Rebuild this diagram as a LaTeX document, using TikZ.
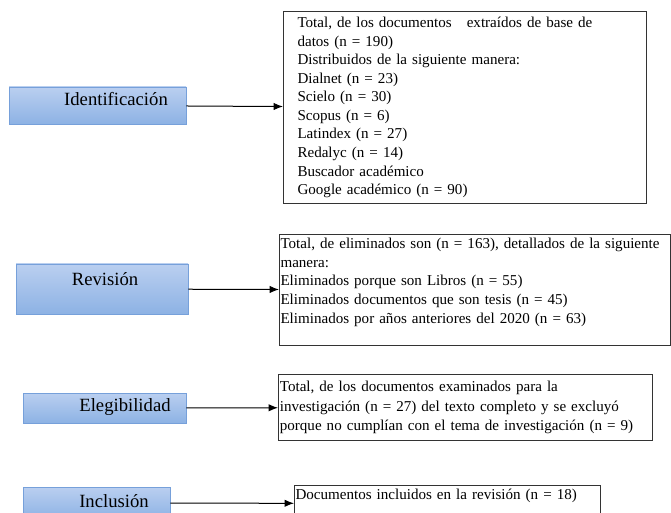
\documentclass[tikz,border=0pt]{standalone}
\usepackage{fontspec}
\setmainfont{Liberation Serif}
\usetikzlibrary{arrows.meta}
\definecolor{stagetop}{RGB}{186,207,240}
\definecolor{stagebot}{RGB}{141,178,228}
\definecolor{stageline}{RGB}{118,160,218}
\tikzstyle{stage} = [rectangle, draw=stageline, line width=0.7pt, top color=stagetop, bottom color=stagebot, inner sep=0pt]
\tikzstyle{stagetext} = [font=\fontsize{14}{16}\selectfont, inner sep=0pt]
\tikzstyle{info} = [rectangle, anchor=north west, draw=black!80, line width=0.8pt, align=left, inner ysep=1pt, font=\fontsize{11.3}{13.9}\selectfont]
\tikzstyle{arrow} = [-{Latex[length=7pt, width=5.5pt]}, line width=0.75pt]

\begin{document}
\begin{tikzpicture}[x=0.75pt, y=-0.75pt]
\useasboundingbox (0,0) rectangle (671,513);
\node (ident) [stage, minimum width=132.75pt, minimum height=27.75pt] at (97.5,105.5) {};
\node (identtxt) [stagetext] at (116,99) {Identificación};
\node (revis) [stage, minimum width=129pt, minimum height=37.5pt] at (102,289) {};
\node (revistxt) [stagetext] at (105,279) {Revisión};
\node (eleg) [stage, minimum width=122.25pt, minimum height=22.5pt] at (104.5,408) {};
\node (elegtxt) [stagetext] at (125,407) {Elegibilidad};
\node (incl) [stage, minimum width=110.25pt, minimum height=24pt] at (96.5,503) {};
\node (incltxt) [stagetext] at (114,501) {Inclusión};

\node (dbs) [info, inner xsep=10.5pt, text width=251.25pt, minimum height=144pt] at (283,11) {Total, de los documentos~~~extraídos de base de\\
datos (n = 190)\\
Distribuidos de la siguiente manera:\\
Dialnet (n = 23)\\
Scielo (n = 30)\\
Scopus (n = 6)\\
Latindex (n = 27)\\
Redalyc (n = 14)\\
Buscador académico\\
Google académico (n = 90)};
\node (removed) [info, inner xsep=0.75pt, text width=291.75pt, minimum height=83.25pt] at (279,234) {Total, de eliminados son (n = 163), detallados de la siguiente\\
manera:\\
Eliminados porque son Libros (n = 55)\\
Eliminados documentos que son tesis (n = 45)\\
Eliminados por años anteriores del 2020 (n = 63)\\
\mbox{}};
\node (exam) [info, inner xsep=1pt, text width=278.5pt, minimum height=49.5pt, font=\fontsize{11.3}{14.8}\selectfont] at (278,374) {Total, de los documentos examinados para la\\
investigación (n = 27) del texto completo y se excluyó\\
porque no cumplían con el tema de investigación (n = 9)\\[1pt]};
\node (included) [info, inner xsep=0.75pt, text width=228pt, minimum height=27pt] at (294,485) {Documentos incluidos en la revisión (n = 18)\\
\mbox{}};

\draw [arrow] (ident) -- (dbs);
\draw [arrow] (revis) -- (removed);
\draw [arrow] (eleg) -- (exam);
\draw [arrow] (incl) -- (included);
\end{tikzpicture}
\end{document}
